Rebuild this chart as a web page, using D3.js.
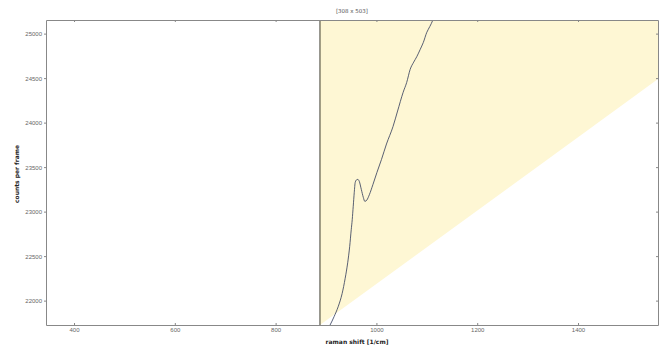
<html>
<head>
<script src="https://d3js.org/d3.v7.min.js" charset="utf-8"></script>
<style>
body { margin: 0; background: white; font-family: "DejaVu Sans", sans-serif; }
</style>
</head>
<body>
<script>
// plot window
var width = 666, height = 347;
var margin = {left: 46, right: 8, top: 20, bottom: 22};

// axis ranges and ticks
var xDomain = [344.4, 1558.7];
var yDomain = [21726, 25153];
var xTicks = [400, 600, 800, 1000, 1200, 1400];
var yTicks = [22000, 22500, 23000, 23500, 24000, 24500, 25000];

// highlighted region (data units)
var regionX = [888, 1600, 1600, 888];
var regionY = [25300, 25300, 24660, 21726];

// spectrum
var shift = [903, 908, 916, 924, 932, 938, 943, 947, 950, 952, 954, 956, 958, 961, 963, 966, 970, 974, 977, 981, 986, 993, 1001, 1010, 1020, 1033, 1042, 1053, 1060, 1067, 1074, 1080, 1087, 1093, 1100, 1106, 1112, 1116];
var counts = [21680, 21726, 21820, 21930, 22080, 22250, 22425, 22610, 22796, 22909, 23060, 23213, 23330, 23359, 23362, 23340, 23250, 23160, 23115, 23130, 23190, 23303, 23440, 23585, 23760, 23957, 24130, 24340, 24450, 24599, 24680, 24740, 24824, 24900, 25015, 25080, 25153, 25220];

var svg = d3.select("body").append("svg")
  .attr("width", width).attr("height", height);

var x = d3.scaleLinear().domain(xDomain).range([margin.left, width - margin.right]);
var y = d3.scaleLinear().domain(yDomain).range([height - margin.bottom, margin.top]);

svg.append("clipPath").attr("id", "clip")
  .append("rect")
  .attr("x", margin.left).attr("y", margin.top)
  .attr("width", width - margin.left - margin.right)
  .attr("height", height - margin.top - margin.bottom);

var g = svg.append("g").attr("clip-path", "url(#clip)");

// yellow region
var region = regionX.map(function(d, i) { return [x(d), y(regionY[i])]; });
g.append("polygon")
  .attr("points", region.map(function(p) { return p.join(","); }).join(" "))
  .attr("fill", "#fef7d4");

g.append("line")
  .attr("x1", x(regionX[0])).attr("x2", x(regionX[0]))
  .attr("y1", margin.top).attr("y2", height - margin.bottom)
  .attr("stroke", "#3c3a2c").attr("stroke-width", 1);

// spectrum
var line = d3.line()
  .x(function(d, i) { return x(shift[i]); })
  .y(function(d) { return y(d); })
  .curve(d3.curveMonotoneX);
g.append("path")
  .datum(counts)
  .attr("d", line)
  .attr("fill", "none")
  .attr("stroke", "#2e3858")
  .attr("stroke-width", 0.8);

// axes
function style(ax) {
  ax.select(".domain").attr("stroke", "#888");
  ax.selectAll(".tick line").attr("stroke", "#888");
  ax.selectAll("text").attr("fill", "#666").attr("font-size", 6);
}
var fmt = d3.format("d");
var axBottom = svg.append("g").attr("transform", "translate(0," + (height - margin.bottom) + ")")
  .call(d3.axisBottom(x).tickValues(xTicks).tickFormat(fmt).tickSizeInner(-2).tickSizeOuter(0).tickPadding(3));
style(axBottom);
var axTop = svg.append("g").attr("transform", "translate(0," + margin.top + ")")
  .call(d3.axisTop(x).tickValues(xTicks).tickSizeInner(-2).tickSizeOuter(0).tickFormat(""));
style(axTop);
var axLeft = svg.append("g").attr("transform", "translate(" + margin.left + ",0)")
  .call(d3.axisLeft(y).tickValues(yTicks).tickFormat(fmt).tickSizeInner(2).tickSizeOuter(0).tickPadding(2));
style(axLeft);
var axRight = svg.append("g").attr("transform", "translate(" + (width - margin.right) + ",0)")
  .call(d3.axisRight(y).tickValues(yTicks).tickSizeInner(-2).tickSizeOuter(0).tickFormat(""));
style(axRight);

// labels
svg.append("text")
  .attr("x", 352).attr("y", 13)
  .attr("text-anchor", "middle")
  .attr("font-size", 5.5).attr("fill", "#555")
  .text("[308 x 503]");
svg.append("text")
  .attr("x", 357).attr("y", 344)
  .attr("text-anchor", "middle")
  .attr("font-size", 6).attr("font-weight", "bold").attr("fill", "#222")
  .text("raman shift [1/cm]");
svg.append("text")
  .attr("transform", "translate(19,174) rotate(-90)")
  .attr("text-anchor", "middle")
  .attr("font-size", 6).attr("font-weight", "bold").attr("fill", "#222")
  .text("counts per frame");
</script>
</body>
</html>
